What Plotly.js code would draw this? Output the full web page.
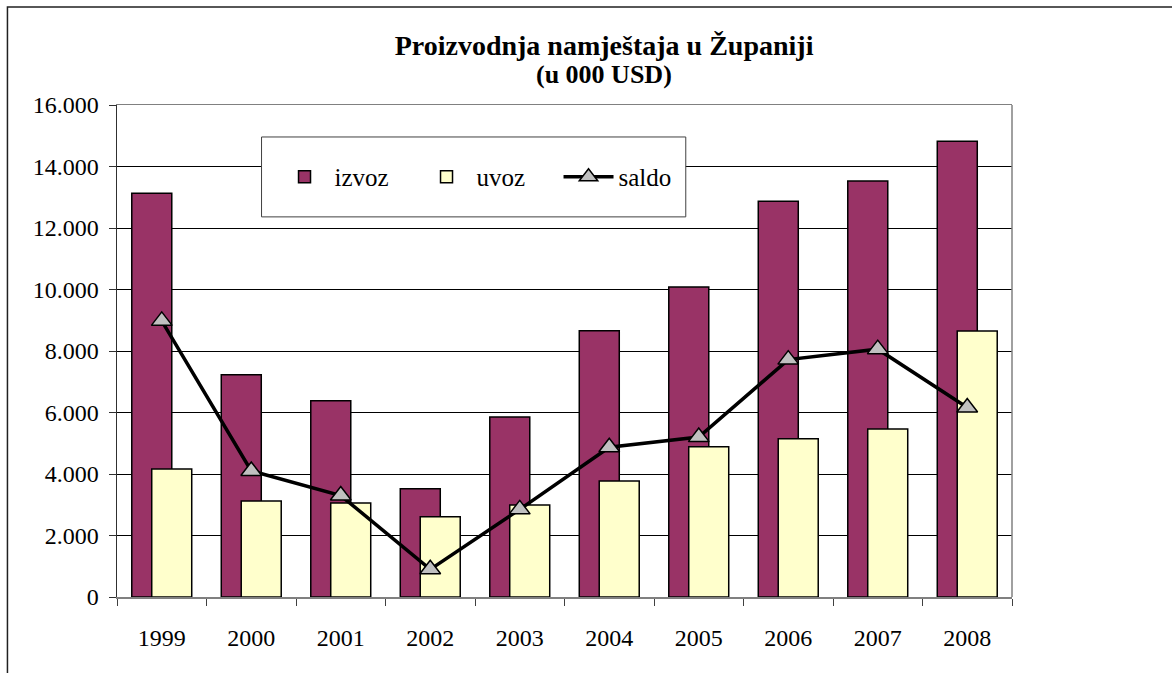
<!DOCTYPE html>
<html>
<head>
<meta charset="utf-8">
<script src="https://cdn.plot.ly/plotly-3.0.1.min.js"></script>
<style>html,body{margin:0;padding:0;background:#fff;}#chart{width:1172px;height:673px;}</style>
</head>
<body>
<div id="chart"></div>
<script>
const years = ['1999','2000','2001','2002','2003','2004','2005','2006','2007','2008'];
const izvoz = [13130, 7230, 6380, 3520, 5850, 8660, 10080, 12870, 13530, 14820];
const uvoz  = [4160, 3120, 3060, 2610, 2990, 3770, 4890, 5150, 5460, 8650];
const saldo = [8980, 4100, 3300, 900, 2850, 4870, 5200, 7720, 8060, 6160];
const yTicks = [0, 2000, 4000, 6000, 8000, 10000, 12000, 14000, 16000];
const titleLine1 = 'Proizvodnja namještaja u Županiji';
const titleLine2 = '(u 000 USD)';

const serif = 'Liberation Serif';

const traces = [
  {type:'bar', name:'izvoz', x:years, y:izvoz, width:0.447, offset:-0.335,
   marker:{color:'#993366', line:{color:'#000', width:1.5}}},
  {type:'bar', name:'uvoz', x:years, y:uvoz, width:0.447, offset:-0.112,
   marker:{color:'#FFFFCC', line:{color:'#000', width:1.5}}},
  {type:'scatter', mode:'lines+markers', name:'saldo', x:years, y:saldo,
   line:{color:'#000', width:3.5},
   marker:{symbol:'triangle-up', size:18, color:'#C0C0C0', line:{color:'#000', width:1.5}}}
];

const layout = {
  width:1172, height:673,
  margin:{l:117, r:160, t:105, b:76, pad:0},
  paper_bgcolor:'#fff', plot_bgcolor:'#fff',
  separators:',.',
  barmode:'overlay',
  font:{family:serif, color:'#000', size:24},
  title:{text:'<b>' + titleLine1 + '</b>',
         font:{family:serif, size:28, color:'#000'},
         x:0.5154, xref:'container', xanchor:'center', y:0.933, yref:'container', yanchor:'middle'},
  annotations:[
    {text:'<b>' + titleLine2 + '</b>', xref:'paper', yref:'paper', x:0.5439, y:1.063,
     xanchor:'center', yanchor:'middle', showarrow:false,
     font:{family:serif, size:26, color:'#000'}}
  ],
  xaxis:{type:'category', showline:true, linecolor:'#808080', linewidth:1.5, mirror:true,
         ticks:'outside', tickson:'boundaries', ticklen:7, tickcolor:'#404040', tickwidth:1,
         ticklabelstandoff:19, showgrid:false, tickfont:{family:serif, size:24, color:'#000'},
         range:[-0.5, 9.5]},
  yaxis:{range:[0,16000], tickvals:yTicks, tickformat:',d', showline:true, linecolor:'#303030', linewidth:1.5,
         ticks:'outside', ticklen:7, tickcolor:'#303030', ticklabelstandoff:5,
         showgrid:true, gridcolor:'#000', gridwidth:1, zeroline:false,
         tickfont:{family:serif, size:24, color:'#000'}},
  legend:{orientation:'h', x:0.176, xanchor:'left', y:0.8538, yanchor:'middle',
          bgcolor:'rgba(0,0,0,0)', borderwidth:0, font:{family:serif, size:25, color:'#000'},
          itemwidth:50, entrywidth:77, traceorder:'normal'},
  showlegend:true,
  shapes:[
    {type:'rect', xref:'paper', yref:'paper', x0:0.1615, x1:0.6355, y0:0.7726, y1:0.935,
     fillcolor:'#fff', line:{color:'#404040', width:1}, layer:'above'},
    {type:'line', xref:'paper', yref:'paper', x0:1, x1:1, y0:0, y1:1,
     line:{color:'#808080', width:1.5}, layer:'above'},
    {type:'rect', xref:'paper', yref:'paper', x0:-0.1224, x1:1.3, y0:-0.3, y1:1.199,
     fillcolor:'rgba(0,0,0,0)', line:{color:'#202020', width:1.5}, layer:'below'}
  ]
};

Plotly.newPlot('chart', traces, layout, {displayModeBar:false, staticPlot:true});
</script>
</body>
</html>
